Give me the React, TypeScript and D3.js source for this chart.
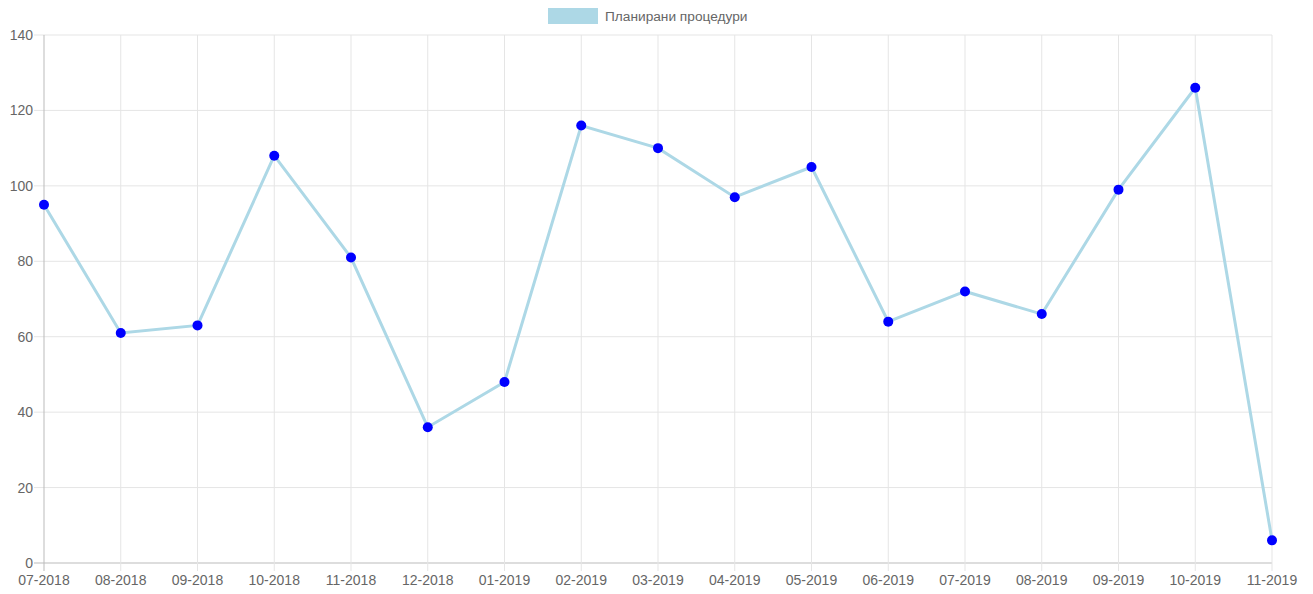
import React from 'react';
import * as d3 from 'd3';

const months = [
  '07-2018', '08-2018', '09-2018', '10-2018', '11-2018', '12-2018',
  '01-2019', '02-2019', '03-2019', '04-2019', '05-2019', '06-2019',
  '07-2019', '08-2019', '09-2019', '10-2019', '11-2019',
];
const procedures = [95, 61, 63, 108, 81, 36, 48, 116, 110, 97, 105, 64, 72, 66, 99, 126, 6];
const yTicks = [0, 20, 40, 60, 80, 100, 120, 140];
const seriesLabel = 'Планирани процедури';

const W = 1313;
const H = 594;
const margin = { top: 35, right: 41, bottom: 31, left: 44 };

const App = () => {
  const x = d3.scalePoint()
    .domain(months)
    .range([margin.left, W - margin.right]);

  const y = d3.scaleLinear()
    .domain([0, 140])
    .range([H - margin.bottom, margin.top]);

  const line = d3.line<number>()
    .x((_, i) => x(months[i]) as number)
    .y((d) => y(d));

  const font = '"Liberation Sans", Arial, Helvetica, sans-serif';
  const bottom = H - margin.bottom;

  return (
    <svg width={W} height={H} style={{ position: 'absolute', left: 0, top: 0, background: '#fff' }} fontFamily={font}>
      {/* legend */}
      <rect x={548} y={8} width={50} height={16} fill="#add8e6" />
      <text x={605} y={21} fontSize={13.7} fill="#666">{seriesLabel}</text>

      {/* y grid + labels */}
      {yTicks.map((t) => (
        <g key={t}>
          <line x1={margin.left - 10} x2={W - margin.right} y1={y(t)} y2={y(t)}
            stroke={t === 0 ? '#bbb' : '#e5e5e5'} strokeWidth={1} />
          <text x={margin.left - 11} y={y(t) + 5} textAnchor="end" fontSize={14} fill="#666">{t}</text>
        </g>
      ))}

      {/* x grid + labels */}
      {months.map((m, i) => (
        <g key={m}>
          <line x1={x(m)} x2={x(m)} y1={margin.top} y2={bottom + 8}
            stroke={i === 0 ? '#bbb' : '#e5e5e5'} strokeWidth={1} />
          <text x={x(m)} y={bottom + 22} textAnchor="middle" fontSize={14} fill="#666">{m}</text>
        </g>
      ))}

      <path d={line(procedures) || ''} fill="none" stroke="#add8e6" strokeWidth={3} />

      {procedures.map((v, i) => (
        <circle key={i} cx={x(months[i])} cy={y(v)} r={5} fill="#0000ff" />
      ))}
    </svg>
  );
};

export default App;
